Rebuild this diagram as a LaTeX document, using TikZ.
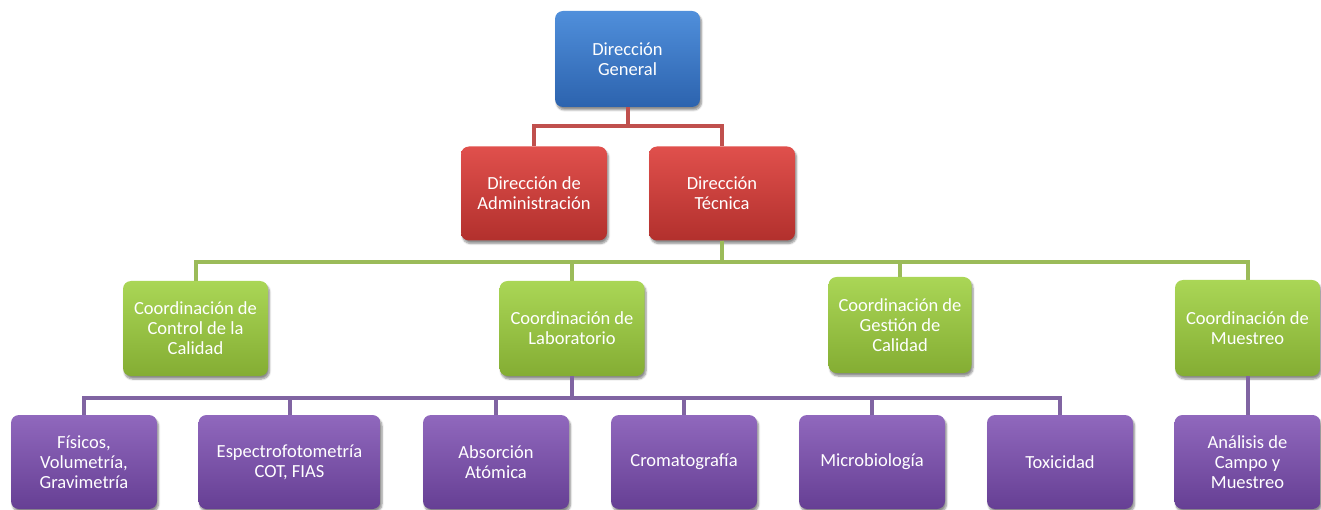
\documentclass[tikz,border=0pt]{standalone}
\usepackage{fontspec}
\setmainfont{Carlito}
\usetikzlibrary{shadows.blur}
\definecolor{lred}{HTML}{C0504D}
\definecolor{lgreen}{HTML}{9BBB59}
\definecolor{lpurple}{HTML}{8064A2}
\begin{document}
\begin{tikzpicture}[x=1pt,y=-1pt,
  box/.style={rounded corners=8pt, align=center, text=white, inner sep=2pt,
    font=\fontsize{18.5}{20}\selectfont,
    blur shadow={shadow xshift=1.5pt,shadow yshift=-3pt,shadow blur steps=6,shadow opacity=45}},
  bluebox/.style={box, top color=blue!10!white!0!blue, top color={rgb,255:red,80;green,143;blue,219}, bottom color={rgb,255:red,44;green,99;blue,174}},
  redbox/.style={box, top color={rgb,255:red,224;green,80;blue,76}, bottom color={rgb,255:red,178;green,48;blue,45}},
  greenbox/.style={box, top color={rgb,255:red,170;green,214;blue,86}, bottom color={rgb,255:red,132;green,173;blue,51}},
  purplebox/.style={box, top color={rgb,255:red,144;green,104;blue,189}, bottom color={rgb,255:red,102;green,63;blue,148}},
  conn/.style={line width=4pt},
]
\useasboundingbox (0,0) rectangle (1321,510);
% level 0
\node[bluebox, minimum width=145pt, minimum height=96pt] (dg) at (627.5,59) {Dirección\\General};
% level 1
\node[redbox, minimum width=146pt, minimum height=94pt] (da) at (534,193.5) {Dirección de\\Administración};
\node[redbox, minimum width=146pt, minimum height=94pt] (dt) at (722,193.5) {Dirección\\Técnica};
% level 2
\node[greenbox, minimum width=145pt, minimum height=95pt] (ccc) at (195.5,328.5) {Coordinación de\\Control de la\\Calidad};
\node[greenbox, minimum width=145pt, minimum height=95pt] (cl) at (572,328.5) {Coordinación de\\Laboratorio};
\node[greenbox, minimum width=143pt, minimum height=96pt] (cgc) at (900,325) {Coordinación de\\Gestión de\\Calidad};
\node[greenbox, minimum width=145pt, minimum height=96pt] (cm) at (1247.5,328) {Coordinación de\\Muestreo};
% level 3
\node[purplebox, minimum width=146pt, minimum height=94pt] (fis) at (84,462) {Físicos,\\Volumetría,\\Gravimetría};
\node[purplebox, minimum width=182pt, minimum height=94pt] (esp) at (289.5,462) {Espectrofotometría\\COT, FIAS};
\node[purplebox, minimum width=146pt, minimum height=94pt] (abs) at (496,462) {Absorción\\Atómica};
\node[purplebox, minimum width=146pt, minimum height=94pt] (cro) at (684,462) {Cromatografía};
\node[purplebox, minimum width=146pt, minimum height=94pt] (mic) at (872,462) {Microbiología};
\node[purplebox, minimum width=146pt, minimum height=94pt] (tox) at (1060,462) {Toxicidad};
\node[purplebox, minimum width=146pt, minimum height=94pt] (ana) at (1247.5,462) {Análisis de\\Campo y\\Muestreo};
% buses
\coordinate (rbus) at (0,126);
\coordinate (gbus) at (0,262);
\coordinate (pbus) at (0,398);
% red connectors
\draw[conn, lred] (dg.south) -- (dg.south |- rbus) -| (da.north);
\draw[conn, lred] (dg.south) -- (dg.south |- rbus) -| (dt.north);
% green connectors
\foreach \n in {ccc,cl,cgc,cm}
  \draw[conn, lgreen] (dt.south) -- (dt.south |- gbus) -| (\n.north);
% purple connectors
\foreach \n in {fis,esp,abs,cro,mic,tox}
  \draw[conn, lpurple] (cl.south) -- (cl.south |- pbus) -| (\n.north);
\draw[conn, lpurple] (cm.south) -- (ana.north);
\end{tikzpicture}
\end{document}
